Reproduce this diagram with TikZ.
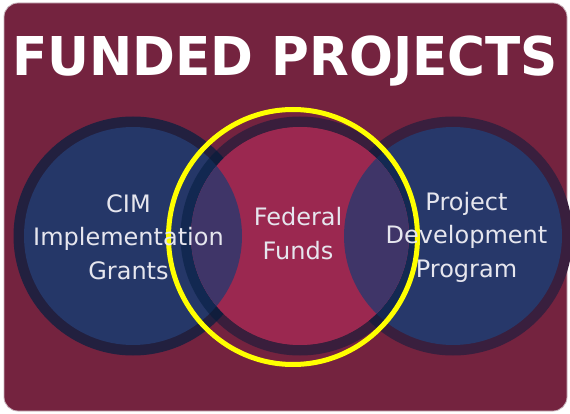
\documentclass[tikz,border=0pt]{standalone}
\usepackage{fontspec}
\setmainfont{DejaVu Sans}
\definecolor{bgc}{HTML}{74233F}
\definecolor{bgedge}{HTML}{C9B3BC}
\definecolor{ringL}{HTML}{22203F}
\definecolor{ringR}{HTML}{391F3E}
\definecolor{blueL}{HTML}{253768}
\definecolor{blueR}{HTML}{27386A}
\definecolor{ringM}{RGB}{0,27,59}
\definecolor{crim}{HTML}{9B2850}
\definecolor{purp}{HTML}{3F3568}
\definecolor{txtc}{HTML}{E6E6EE}
\definecolor{hilite}{HTML}{FFFF00}
\begin{document}
\begin{tikzpicture}[x=1pt,y=-1pt,
  lbl/.style={text=txtc, align=center, font=\fontsize{24}{33.5}\selectfont, inner sep=0pt},
  ttl/.style={text=white, font=\fontsize{53.5}{60}\selectfont\bfseries, inner sep=0pt, xscale=0.965}]
\useasboundingbox (0,0) rectangle (570,414);
\clip (0,0) rectangle (570,414);
\fill[white] (0,0) rectangle (570,414);
\path[fill=bgc, draw=bgedge, line width=0.8pt, rounded corners=14pt] (4,3) rectangle (567,411);
% left circle
\fill[ringL] (133,236) circle (119.5);
\fill[blueL] (133,236) circle (109);
% right circle
\fill[ringR] (453,236) circle (119.5);
\fill[blueR] (453,236) circle (109);
% middle circle
\fill[ringM, fill opacity=0.5, even odd rule] (300,236) circle (119.5) (300,236) circle (109);
\fill[crim] (300,236) circle (109);
\begin{scope}
  \clip (300,236) circle (109);
  \fill[purp] (133,236) circle (109);
  \fill[purp] (453,236) circle (109);
\end{scope}
% highlight
\draw[hilite, line width=5pt] (293,237) ellipse [x radius=124.5, y radius=127.5];
% texts
\node[ttl, anchor=base] (title) at (285,76) {FUNDED PROJECTS};
\node[lbl] (cim) at (128.5,237) {CIM\\Implementation\\Grants};
\node[lbl] (fed) at (298,233.5) {Federal\\Funds};
\node[lbl] (pdp) at (466.5,237) {Project\\Development\\Program};
\end{tikzpicture}
\end{document}
